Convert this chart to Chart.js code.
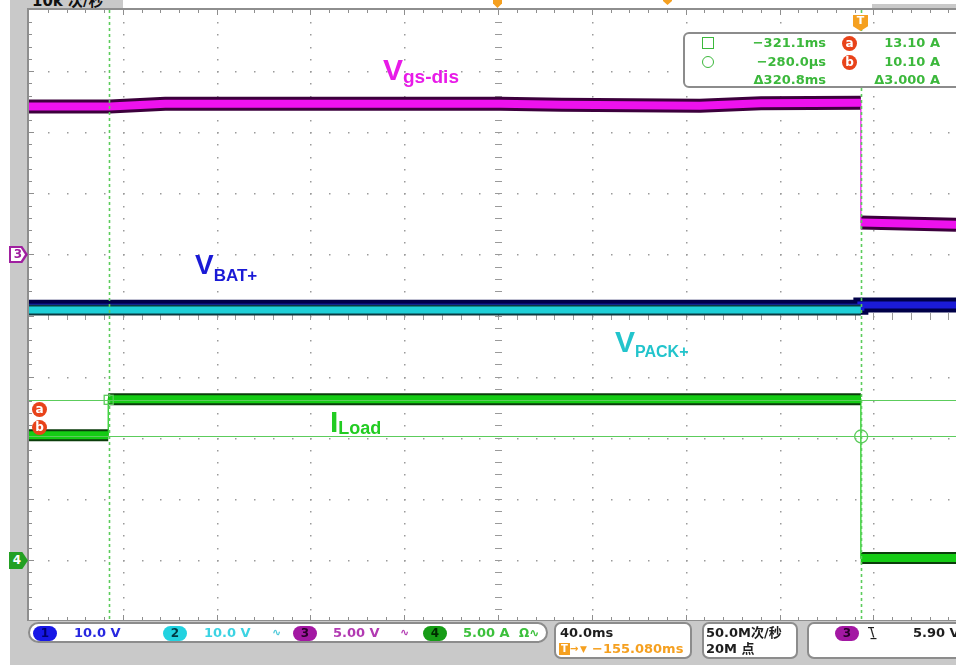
<!DOCTYPE html>
<html lang="zh">
<head>
<meta charset="UTF-8">
<title>Scope capture</title>
<script src="https://cdn.jsdelivr.net/npm/chart.js"></script>
<style>
  html, body { margin: 0; padding: 0; }
  body { width: 956px; height: 665px; overflow: hidden; position: relative; background: #fff;
         font-family: "DejaVu Sans", "Noto Sans CJK SC", sans-serif; }
  .abs { position: absolute; white-space: nowrap; }
  .gray { position: absolute; background: #c9c9c9; }
  .box { position: absolute; background: #fff; border: 2px solid #8c8c8c; }
  .st { position: absolute; white-space: nowrap; font-weight: bold; font-size: 13px; line-height: 16px; }
  .oval { position: absolute; width: 24px; height: 15px; border-radius: 8px; text-align: center;
          font-weight: bold; font-size: 12px; line-height: 15px; }
  .lbl { position: absolute; white-space: nowrap; font-family: "Liberation Sans", Arial, sans-serif;
         font-weight: bold; line-height: 1; }
  .ro { position: absolute; white-space: nowrap; font-weight: bold; font-size: 13px; line-height: 16px; color: #3cb83c; }
  .badge { position: absolute; width: 15px; height: 15px; border-radius: 50%; background: #e8431a; color: #fff;
           text-align: center; font-weight: bold; font-size: 12px; line-height: 14px; }
</style>
</head>
<body>
<div class="gray" style="left:10px;top:0;width:17px;height:665px"></div>
<div class="gray" style="left:10px;top:0;width:113px;height:8px"></div>
<div class="gray" style="left:872px;top:4px;width:84px;height:5px"></div>
<div class="gray" style="left:10px;top:621px;width:946px;height:44px"></div>
<div class="abs" style="left:32px;top:-11px;font-weight:bold;font-size:15px;color:#111">10k 次/秒</div>

<canvas id="scope" width="956" height="665" class="abs" style="left:0;top:0"></canvas>

<!-- top markers -->
<div class="abs" style="left:493px;top:-3px;width:9px;height:11px;background:#f5a020;clip-path:polygon(0 0,100% 0,100% 60%,50% 100%,0 60%)"></div>
<div class="abs" style="left:663px;top:-5px;width:9px;height:10px;background:#f5a020;clip-path:polygon(0 0,100% 0,100% 60%,50% 100%,0 60%)"></div>
<div class="abs" style="left:853px;top:15px;width:15px;height:16px;background:#f5a020;clip-path:polygon(0 0,100% 0,100% 70%,50% 100%,0 70%);color:#fff;font-weight:bold;font-size:11px;line-height:12px;text-align:center">T</div>

<!-- channel ground markers -->
<div class="abs" style="left:9px;top:246px;width:19px;height:17px;background:#a020a0;clip-path:polygon(0 0,70% 0,100% 50%,70% 100%,0 100%)"></div>
<div class="abs" style="left:11px;top:248px;width:14px;height:13px;background:#fff;clip-path:polygon(0 0,70% 0,100% 50%,70% 100%,0 100%);color:#a020a0;font-weight:bold;font-size:12px;line-height:13px;text-align:center">3</div>
<div class="abs" style="left:9px;top:552px;width:19px;height:17px;background:#23a023;clip-path:polygon(0 0,70% 0,100% 50%,70% 100%,0 100%);color:#fff;font-weight:bold;font-size:12px;line-height:17px;text-align:center;padding-right:3px;box-sizing:border-box">4</div>

<!-- cursor badges on the left edge -->
<div class="badge" style="left:32px;top:402px">a</div>
<div class="badge" style="left:32px;top:420px">b</div>

<!-- trace labels -->
<div class="lbl" style="left:383px;top:54.6px;font-size:30px;color:#e81ae8">V<span style="font-size:19px;vertical-align:-3px">gs-dis</span></div>
<div class="lbl" style="left:195px;top:251.3px;font-size:28px;color:#1a1ad6">V<span style="font-size:17px;vertical-align:-7px">BAT+</span></div>
<div class="lbl" style="left:615px;top:326.6px;font-size:30px;color:#22c4cc">V<span style="font-size:16px;vertical-align:-5px">PACK+</span></div>
<div class="lbl" style="left:330px;top:406.6px;font-size:30px;color:#22cc22">I<span style="font-size:18px;vertical-align:-2px">Load</span></div>

<!-- cursor readout -->
<div class="box" style="left:683px;top:32px;width:280px;height:52px;border-radius:6px"></div>
<div class="abs" style="left:702px;top:37px;width:10px;height:10px;border:1.5px solid #3cb83c"></div>
<div class="abs" style="left:702px;top:56px;width:10px;height:10px;border:1.5px solid #3cb83c;border-radius:50%"></div>
<div class="ro" style="right:130px;top:35px">−321.1ms</div>
<div class="ro" style="right:130px;top:54px">−280.0µs</div>
<div class="ro" style="right:130px;top:72px">Δ320.8ms</div>
<div class="badge" style="left:842px;top:35.5px">a</div>
<div class="badge" style="left:842px;top:54.5px">b</div>
<div class="ro" style="right:16px;top:35px">13.10 A</div>
<div class="ro" style="right:16px;top:54px">10.10 A</div>
<div class="ro" style="right:16px;top:72px">Δ3.000 A</div>

<!-- status bar -->
<div class="box" style="left:28px;top:622px;width:516px;height:17px;border-radius:11px"></div>
<div class="oval" style="left:33px;top:626px;background:#1717e6;color:#000070">1</div>
<div class="st" style="left:74px;top:625px;color:#2727e0">10.0 V</div>
<div class="oval" style="left:163px;top:626px;background:#22d2e0;color:#003a44">2</div>
<div class="st" style="left:204px;top:625px;color:#3cd3e3">10.0 V</div>
<div class="st" style="left:272px;top:625px;color:#4cc8d8;font-size:11px">∿</div>
<div class="oval" style="left:293px;top:626px;background:#a318a3;color:#2a002a">3</div>
<div class="st" style="left:333px;top:625px;color:#b23ab2">5.00 V</div>
<div class="st" style="left:400px;top:625px;color:#b23ab2;font-size:11px">∿</div>
<div class="oval" style="left:423px;top:626px;background:#169c16;color:#002a00">4</div>
<div class="st" style="left:463px;top:625px;color:#3cc03c">5.00 A</div>
<div class="st" style="left:519px;top:625px;color:#3cc03c;font-size:12px">Ω∿</div>

<div class="box" style="left:554px;top:622px;width:134px;height:33px;border-radius:7px"></div>
<div class="st" style="left:560px;top:625px;color:#1e1e1e">40.0ms</div>
<div class="abs" style="left:559px;top:643px;width:11px;height:12px;background:#f5a020;color:#fff;font-weight:bold;font-size:10px;line-height:12px;text-align:center">T</div>
<div class="st" style="left:570px;top:641px;color:#f5a020;font-size:10px">→</div>
<div class="st" style="left:580px;top:641px;color:#f5a020;font-size:9px">▼</div>
<div class="st" style="left:592px;top:641px;color:#f5a020">−155.080ms</div>

<div class="box" style="left:702px;top:622px;width:92px;height:33px;border-radius:7px"></div>
<div class="st" style="left:706px;top:625px;color:#1e1e1e">50.0M次/秒</div>
<div class="st" style="left:706px;top:641px;color:#1e1e1e">20M 点</div>

<div class="box" style="left:807px;top:622px;width:160px;height:33px;border-radius:7px"></div>
<div class="oval" style="left:835px;top:626px;background:#a318a3;color:#2a002a">3</div>
<div class="st" style="left:868px;top:624px;color:#1e1e1e;font-size:12px;letter-spacing:-4px">‾\_</div>
<div class="st" style="left:913px;top:625px;color:#1e1e1e">5.90 V</div>

<script>
// horizontal: ms relative to trigger, 40 ms/div, screen centre at -155.08 ms
const msPerDiv = 40;
const xMin = -355.08;
const xMax = 40.16;

// vertical settings per channel (units per div, ground position in div from centre)
const ch1Scale = 10, ch1Pos = -4;
const ch2Scale = 10, ch2Pos = -4;
const ch3Scale = 5, ch3Pos = 1;
const ch4Scale = 5, ch4Pos = -4;

// ch3  Vgs-dis (V); null marks the fast falling edge
const vgsTime  = [-355.1, -320.5, -297, -240, -197, -154, -128, -69, -43, -0.4, -0.4, -0.4, 40.2];
const vgsVolts = [12.10, 12.10, 12.32, 12.32, 12.32, 12.32, 12.24, 12.16, 12.36, 12.40, null, 2.62, 2.42];

// ch1  VBAT+ (V)
const batTime  = [-355.1, -0.4, -0.4, 40.2];
const batVolts = [41.35, 41.35, 41.7, 41.7];

// ch2  VPACK+ (V), before and after the switch-off
const packTime       = [-355.1, -0.4];
const packVolts      = [40.9, 40.9];
const packAfterTime  = [-0.4, 40.2];
const packAfterVolts = [41.6, 41.6];

// ch4  ILoad (A)
const loadTime = [-355.1, -321.3, -321.3, -321.3, -0.4, -0.4, -0.4, 40.2];
const loadAmps = [10.2, 10.2, null, 13.15, 13.15, null, 0.15, 0.15];

// cursors: vertical (ms) and horizontal (A on ch4)
const cursorTimes = [-321.1, -0.28];
const cursorAmps  = [13.10, 10.10];

function toPoints(times, values, scale, pos) {
  return times.map((t, i) => ({ x: t, y: values[i] === null ? null : values[i] / scale + pos }));
}

function trace(points, core, dark, order, coreW, darkW, withEdge) {
  const sets = [
    { data: points, borderColor: dark, borderWidth: darkW, order: order + 0.2, spanGaps: false },
    { data: points, borderColor: core, borderWidth: coreW, order: order, spanGaps: false }
  ];
  if (withEdge) {
    sets.push({ data: points, borderColor: core, borderWidth: 1.2, order: order - 0.1, spanGaps: true });
  }
  return sets;
}

const datasets = [].concat(
  trace(toPoints(loadTime, loadAmps, ch4Scale, ch4Pos), '#14cc14', '#0b3d0b', 1, 8, 12, true),
  trace(toPoints(vgsTime, vgsVolts, ch3Scale, ch3Pos), '#ee12ee', '#3c003c', 2, 8, 14, true),
  trace(toPoints(packTime, packVolts, ch2Scale, ch2Pos), '#1fd0d8', '#0a3a40', 3, 7, 11, false),
  trace(toPoints(batTime, batVolts, ch1Scale, ch1Pos), '#1b1bd8', '#000048', 4, 7, 15, false),
  trace(toPoints(packAfterTime, packAfterVolts, ch2Scale, ch2Pos), '#1fd0d8', '#0a3a40', 5, 7, 11, false)
);

const scopeGrid = {
  id: 'scopeGrid',
  beforeDatasetsDraw(chart) {
    const { ctx, chartArea: a, scales: { x, y } } = chart;
    ctx.save();
    ctx.fillStyle = '#9a9a9a';
    // vertical division lines
    for (let k = 1; k < 10; k++) {
      const px = Math.round(x.getPixelForValue(xMin + k * msPerDiv));
      for (let m = -24; m <= 24; m++) {
        const py = Math.round(y.getPixelForValue(m / 5));
        if (k === 5) ctx.fillRect(px - 3, py, 7, 1);
        else ctx.fillRect(px, py, 1.5, 1.5);
      }
    }
    // horizontal division lines
    for (let d = -4; d <= 4; d++) {
      const py = Math.round(y.getPixelForValue(d));
      for (let j = 1; xMin + j * 8 < xMax; j++) {
        const px = Math.round(x.getPixelForValue(xMin + j * 8));
        if (d === 0) ctx.fillRect(px, py - 3, 1, 7);
        else ctx.fillRect(px, py, 1.5, 1.5);
      }
    }
    // frame with edge ticks
    ctx.fillStyle = '#8e8e8e';
    ctx.fillRect(a.left - 1, a.top - 2, a.right - a.left + 1, 2);
    ctx.fillRect(a.left - 2, a.top - 2, 2, a.bottom - a.top + 2);
    ctx.fillRect(a.left - 1, a.bottom - 1, a.right - a.left + 1, 1);
    for (let j = 1; xMin + j * 8 < xMax; j++) {
      const px = Math.round(x.getPixelForValue(xMin + j * 8));
      const len = j % 5 === 0 ? 5 : 3;
      ctx.fillRect(px, a.top, 1, len);
      ctx.fillRect(px, a.bottom - 1 - len, 1, len);
    }
    for (let m = -24; m <= 24; m++) {
      const py = Math.round(y.getPixelForValue(m / 5));
      ctx.fillRect(a.left, py, m % 5 === 0 ? 5 : 3, 1);
    }
    ctx.restore();
  },
  afterDatasetsDraw(chart) {
    const { ctx, chartArea: a, scales: { x, y } } = chart;
    ctx.save();
    ctx.strokeStyle = '#5ccc5c';
    ctx.lineWidth = 1.2;
    cursorAmps.forEach(v => {
      const py = Math.round(y.getPixelForValue(v / ch4Scale + ch4Pos)) + 0.5;
      ctx.beginPath(); ctx.moveTo(a.left, py); ctx.lineTo(a.right, py); ctx.stroke();
    });
    ctx.setLineDash([3, 3]);
    ctx.lineWidth = 1.6;
    cursorTimes.forEach(t => {
      const px = Math.round(x.getPixelForValue(t)) + 0.5;
      ctx.beginPath(); ctx.moveTo(px, a.top); ctx.lineTo(px, a.bottom); ctx.stroke();
    });
    ctx.setLineDash([]);
    ctx.lineWidth = 1.3;
    const sx = x.getPixelForValue(cursorTimes[0]);
    const sy = y.getPixelForValue(cursorAmps[0] / ch4Scale + ch4Pos);
    ctx.strokeRect(sx - 4.5, sy - 4.5, 9, 9);
    const cx = x.getPixelForValue(cursorTimes[1]);
    const cy = y.getPixelForValue(cursorAmps[1] / ch4Scale + ch4Pos);
    ctx.beginPath(); ctx.arc(cx, cy, 6.5, 0, Math.PI * 2); ctx.stroke();
    ctx.restore();
  }
};

new Chart(document.getElementById('scope'), {
  type: 'line',
  data: { datasets: datasets },
  options: {
    responsive: false,
    animation: false,
    events: [],
    layout: { padding: { left: 29, top: 10, right: 0, bottom: 44 } },
    elements: { point: { radius: 0 }, line: { tension: 0, borderCapStyle: 'butt' } },
    plugins: { legend: { display: false }, tooltip: { enabled: false } },
    scales: {
      x: { type: 'linear', min: xMin, max: xMax, display: false },
      y: { type: 'linear', min: -5, max: 5, display: false }
    }
  },
  plugins: [scopeGrid]
});
</script>
</body>
</html>
